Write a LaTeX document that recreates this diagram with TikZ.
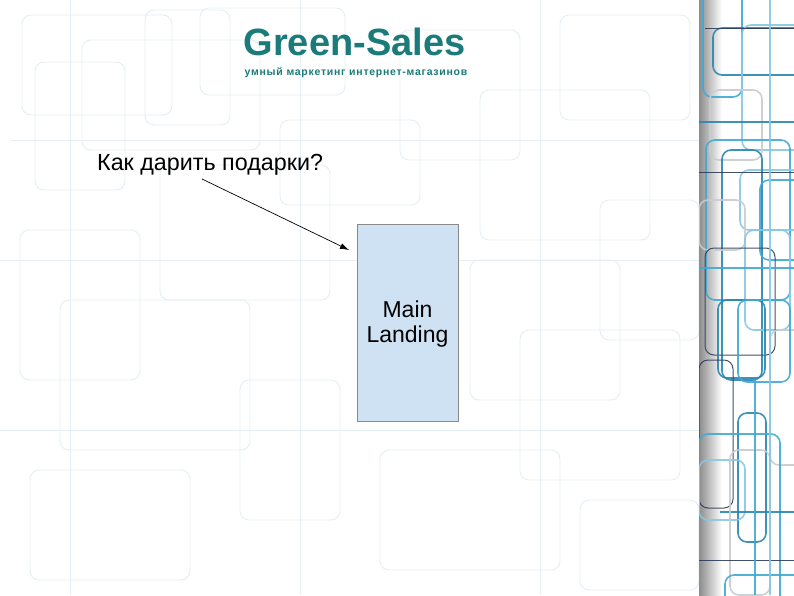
\documentclass[tikz,border=0pt]{standalone}
\usepackage{fontspec}
\setmainfont{Liberation Sans}
\usetikzlibrary{arrows.meta}
\definecolor{teal1}{HTML}{1B7B7A}
\definecolor{boxfill}{HTML}{CFE2F3}
\definecolor{boxline}{HTML}{8A8A8A}
\definecolor{faint}{HTML}{E4EEF3}
\definecolor{pa}{HTML}{3FA9D2}
\definecolor{pb}{HTML}{2A86B0}
\definecolor{pc}{HTML}{86C9E3}
\definecolor{pd}{HTML}{2E3D5C}
\definecolor{pe}{HTML}{C9CDD0}
\tikzset{
  bgline/.style={draw=faint, line width=0.9pt, rounded corners=9pt},
  stripline/.style={line width=1.6pt, rounded corners=9pt, draw opacity=0.9},
  titletext/.style={text=teal1, font=\bfseries\fontsize{38}{40}\selectfont, anchor=base, inner sep=0pt},
  subtext/.style={text=teal1, font=\bfseries\fontsize{10.5}{12}\selectfont\addfontfeatures{LetterSpace=7}, anchor=base, inner sep=0pt},
  qtext/.style={text=black, font=\fontsize{23.3}{26}\selectfont, anchor=base west, inner sep=0pt},
  landbox/.style={draw=boxline, fill=boxfill, line width=0.8pt, minimum width=101pt, minimum height=197pt, inner sep=0pt, align=center, font=\fontsize{23}{25}\selectfont},
  arr/.style={draw=black, line width=0.7pt, -{Latex[length=9pt,width=6pt]}}
}
\begin{document}
\begin{tikzpicture}[x=1pt,y=-1pt]
\useasboundingbox (0,0) rectangle (794,595);
\fill[white] (0,0) rectangle (794,595);
% faint background pattern
\begin{scope}
\clip (0,0) rectangle (699,595);
\draw[bgline] (22,15) rectangle (172,115);
\draw[bgline] (35,62) rectangle (125,190);
\draw[bgline] (82,40) rectangle (260,150);
\draw[bgline] (145,10) rectangle (230,125);
\draw[bgline] (160,165) rectangle (330,300);
\draw[bgline] (200,8) rectangle (345,95);
\draw[bgline] (280,120) rectangle (420,205);
\draw[bgline] (400,30) rectangle (520,160);
\draw[bgline] (480,90) rectangle (650,240);
\draw[bgline] (560,15) rectangle (690,120);
\draw[bgline] (20,230) rectangle (140,380);
\draw[bgline] (60,300) rectangle (250,450);
\draw[bgline] (240,380) rectangle (340,520);
\draw[bgline] (470,260) rectangle (620,400);
\draw[bgline] (520,330) rectangle (680,480);
\draw[bgline] (600,200) rectangle (699,340);
\draw[bgline] (30,470) rectangle (190,580);
\draw[bgline] (380,450) rectangle (560,570);
\draw[bgline] (580,500) rectangle (699,590);
\draw[bgline] (10,140) -- (699,140);
\draw[bgline] (0,260) -- (699,260);
\draw[bgline] (0,430) -- (699,430);
\draw[bgline] (70,0) -- (70,595);
\draw[bgline] (300,0) -- (300,595);
\draw[bgline] (540,0) -- (540,595);
\end{scope}
% right strip
\shade[left color=black!45, right color=white] (699,0) rectangle (722,595);
\begin{scope}
\clip (699,0) rectangle (794,595);
\draw[stripline, draw=pa] (703,-10) rectangle (742,97);
\draw[stripline, draw=pb] (713,28) rectangle (810,75);
\draw[stripline, draw=pc] (742,25) rectangle (810,150);
\draw[stripline, draw=pd, line width=1pt] (705,28) -- (810,28);
\draw[stripline, draw=pe] (710,90) rectangle (762,160);
\draw[stripline, draw=pb] (699,122) -- (810,122);
\draw[stripline, draw=pa] (706,140) rectangle (790,300);
\draw[stripline, draw=pc] (740,170) rectangle (810,230);
\draw[stripline, draw=pb] (722,150) rectangle (762,380);
\draw[stripline, draw=pd, line width=1pt] (699,172) -- (810,172);
\draw[stripline, draw=pa] (760,180) rectangle (810,260);
\draw[stripline, draw=pe] (699,200) rectangle (745,250);
\draw[stripline, draw=pc] (745,230) rectangle (790,330);
\draw[stripline, draw=pd, line width=1pt] (705,248) rectangle (775,355);
\draw[stripline, draw=pa] (699,268) -- (810,268);
\draw[stripline, draw=pb] (718,300) rectangle (765,378);
\draw[stripline, draw=pe] (770,330) rectangle (810,465);
\draw[stripline, draw=pa] (738,300) rectangle (790,382);
\draw[stripline, draw=pd, line width=1pt] (699,360) rectangle (733,508);
\draw[stripline, draw=pb] (738,413) rectangle (766,542);
\draw[stripline, draw=pa] (699,434) rectangle (780,612);
\draw[stripline, draw=pc] (699,460) rectangle (745,520);
\draw[stripline, draw=pb] (720,512) -- (810,512);
\draw[stripline, draw=pe] (730,450) rectangle (770,595);
\draw[stripline, draw=pd, line width=1pt] (699,560) -- (810,560);
\draw[stripline, draw=pa] (725,575) rectangle (810,620);
\draw[stripline, draw=pc] (770,0) -- (770,595);
\draw[stripline, draw=pa] (755,380) -- (755,595);
\end{scope}
% texts
\node[titletext] (title) at (354.5,55) {Green-Sales};
\node[subtext] (sub) at (356,75) {умный маркетинг интернет-магазинов};
\node[qtext] (q) at (97,170) {Как дарить подарки?};
\node[landbox] (land) at (407.5,322.5) {\rule{0pt}{20pt}Main\\Landing};
\coordinate (qs) at (202,179);
\coordinate (qe) at (349,250);
\draw[arr] (qs) -- (qe);
\end{tikzpicture}
\end{document}
